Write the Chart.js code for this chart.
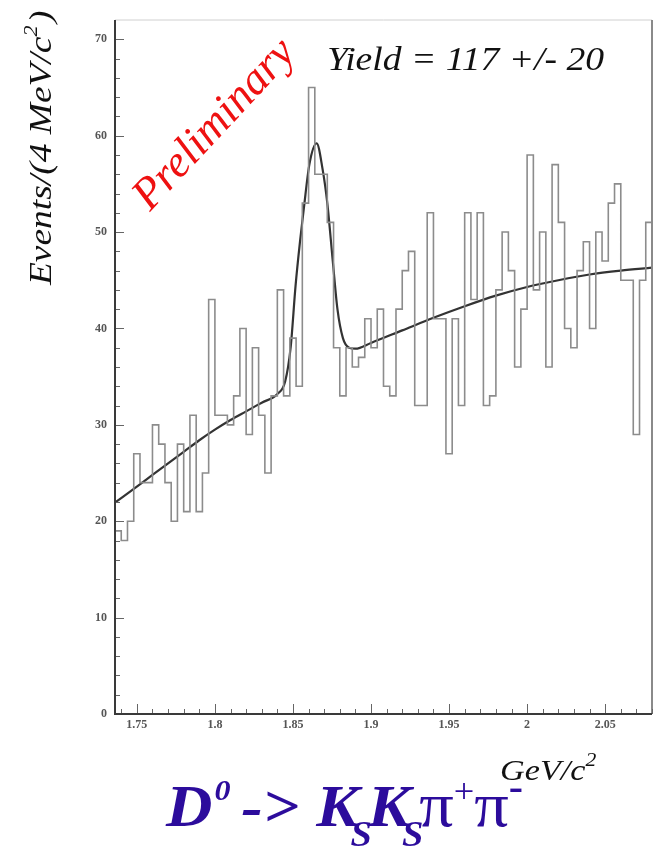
<!DOCTYPE html>
<html>
<head>
<meta charset="utf-8">
<script src="https://cdn.jsdelivr.net/npm/chart.js@4.4.1/dist/chart.umd.min.js"></script>
<style>
  html, body { margin: 0; padding: 0; background: #fff; }
  #wrap { width: 658px; height: 847px; position: relative; }
</style>
</head>
<body>
<div id="wrap"><canvas id="massplot"></canvas></div>
<script>
// KsKs pi pi invariant mass, 4 MeV bins starting at 1.736 GeV
const binStart = 1.736;
const binWidth = 0.004;
const counts = [
  19, 18, 20, 27, 24, 24, 30, 28, 24, 20,
  28, 21, 31, 21, 25, 43, 31, 31, 30, 33,
  40, 29, 38, 31, 25, 33, 44, 33, 39, 34,
  53, 65, 56, 56, 51, 38, 33, 38, 36, 37,
  41, 38, 42, 34, 33, 42, 46, 48, 32, 32,
  52, 41, 41, 27, 41, 32, 52, 43, 52, 32,
  33, 44, 50, 46, 36, 42, 58, 44, 50, 36,
  57, 51, 40, 38, 46, 49, 40, 50, 47, 53,
  55, 45, 45, 29, 45, 51
];

// fit curve (gaussian + background)
const fitMass = [1.7366, 1.75, 1.76, 1.77, 1.78, 1.79, 1.80, 1.81, 1.82, 1.83,
  1.84, 1.845, 1.8485, 1.8517, 1.8545, 1.857, 1.8605, 1.8652, 1.869, 1.872,
  1.8755, 1.8785, 1.882, 1.886, 1.89, 1.90, 1.92, 1.94, 1.96, 1.98,
  2.00, 2.02, 2.04, 2.06, 2.08];
const fitEvents = [22.0, 23.6, 24.8, 26.0, 27.2, 28.4, 29.5, 30.5, 31.4, 32.3,
  33.2, 34.5, 38.0, 44.5, 49.0, 52.5, 57.0, 59.2, 56.5, 53.0,
  47.0, 42.0, 39.0, 38.0, 37.9, 38.5, 39.8, 41.1, 42.3, 43.4,
  44.3, 45.0, 45.6, 46.0, 46.3];

const yTicks = [0, 10, 20, 30, 40, 50, 60, 70];
const xTicks = [1.75, 1.8, 1.85, 1.9, 1.95, 2, 2.05];
const xTickLabels = ['1.75', '1.8', '1.85', '1.9', '1.95', '2', '2.05'];

const serif = "'Liberation Serif', 'DejaVu Serif', serif";

// histogram outline as a stepped line through the bin edges
const histPoints = counts.map((c, k) => ({ x: binStart + k * binWidth, y: c }));
histPoints.push({ x: binStart + counts.length * binWidth, y: counts[counts.length - 1] });

const fitPoints = fitMass.map((m, i) => ({ x: m, y: fitEvents[i] }));

// frame + ROOT style ticks pointing into the pad
const padFrame = {
  id: 'padFrame',
  afterDatasetsDraw(chart) {
    const { ctx, chartArea: a, scales: { x, y } } = chart;
    ctx.save();
    ctx.strokeStyle = '#d0d0d0';
    ctx.lineWidth = 1;
    ctx.beginPath(); ctx.moveTo(a.left, a.top); ctx.lineTo(a.right, a.top); ctx.stroke();
    ctx.strokeStyle = '#8a8a8a';
    ctx.lineWidth = 2;
    ctx.beginPath(); ctx.moveTo(a.right, a.top); ctx.lineTo(a.right, a.bottom); ctx.stroke();

    ctx.strokeStyle = '#666';
    ctx.lineWidth = 1;
    for (let v = 0; v <= 70; v += 2) {
      const py = Math.round(y.getPixelForValue(v)) + 0.5;
      const len = v % 10 === 0 ? 9 : 5;
      ctx.beginPath(); ctx.moveTo(a.left, py); ctx.lineTo(a.left + len, py); ctx.stroke();
    }
    for (let i = 174; i <= 208; i++) {
      const px = Math.round(x.getPixelForValue(i / 100)) + 0.5;
      const len = i % 5 === 0 ? 10 : 5;
      ctx.beginPath(); ctx.moveTo(px, a.bottom); ctx.lineTo(px, a.bottom - len); ctx.stroke();
    }

    ctx.strokeStyle = '#3a3a3a';
    ctx.lineWidth = 2;
    ctx.beginPath(); ctx.moveTo(a.left, a.top); ctx.lineTo(a.left, a.bottom); ctx.lineTo(a.right, a.bottom); ctx.stroke();
    ctx.restore();
  }
};

// draws runs of text (for super/subscripts), sx stretches horizontally
function drawRuns(ctx, runs, x, y, sx = 1) {
  ctx.save();
  ctx.translate(x, y);
  ctx.scale(sx, 1);
  let cx = 0;
  for (const r of runs) {
    ctx.font = r.font;
    ctx.fillText(r.text, cx + (r.dx || 0), r.dy || 0);
    cx += ctx.measureText(r.text).width + (r.dx || 0) + (r.after || 0);
  }
  ctx.restore();
}

const labels = {
  id: 'labels',
  afterDraw(chart) {
    const ctx = chart.ctx;
    ctx.save();
    ctx.textBaseline = 'alphabetic';
    ctx.textAlign = 'left';

    // y axis title
    ctx.save();
    ctx.translate(51, 285);
    ctx.rotate(-Math.PI / 2);
    ctx.fillStyle = '#111';
    drawRuns(ctx, [
      { text: 'Events/(4 MeV/c', font: 'italic 32px ' + serif },
      { text: '2', font: 'italic 19px ' + serif, dy: -14 },
      { text: ')', font: 'italic 32px ' + serif, dx: 2 }
    ], 0, 0, 1.17);
    ctx.restore();

    // yield
    ctx.fillStyle = '#111';
    drawRuns(ctx, [{ text: 'Yield = 117 +/- 20', font: 'italic 33px ' + serif }], 327, 70, 1.14);

    // preliminary stamp
    ctx.save();
    ctx.translate(150, 212);
    ctx.rotate(-47 * Math.PI / 180);
    ctx.fillStyle = '#ee1111';
    ctx.font = 'italic 45px ' + serif;
    ctx.fillText('Preliminary', 0, 0);
    ctx.restore();

    // x axis unit
    ctx.fillStyle = '#111';
    drawRuns(ctx, [
      { text: 'GeV/c', font: 'italic 30px ' + serif },
      { text: '2', font: 'italic 19px ' + serif, dy: -14 }
    ], 500, 780, 1.14);

    // decay channel
    ctx.fillStyle = '#2c0c9c';
    const big = 'italic bold 60px ' + serif;
    const sup = 'italic bold 30px ' + serif;
    const sub = 'italic bold 36px ' + serif;
    const pi = '64px ' + serif;
    drawRuns(ctx, [
      { text: 'D', font: big },
      { text: '0', font: sup, dy: -26, dx: 2, after: 10 },
      { text: '->', font: big, after: 16 },
      { text: 'K', font: big },
      { text: 'S', font: sub, dy: 20, dx: -8, after: -4 },
      { text: 'K', font: big },
      { text: 'S', font: sub, dy: 20, dx: -8, after: -4 },
      { text: 'π', font: pi },
      { text: '+', font: '34px ' + serif, dy: -24 },
      { text: 'π', font: pi },
      { text: '-', font: 'bold 40px ' + serif, dy: -26 }
    ], 166, 826, 1.07);
    ctx.restore();
  }
};

const tickFont = { family: serif, size: 12, weight: 'bold' };

new Chart(document.getElementById('massplot'), {
  type: 'scatter',
  data: {
    datasets: [
      {
        data: histPoints,
        showLine: true,
        stepped: 'before',
        borderColor: '#8c8c8c',
        borderWidth: 1.6,
        pointRadius: 0
      },
      {
        data: fitPoints,
        showLine: true,
        cubicInterpolationMode: 'monotone',
        borderColor: '#333',
        borderWidth: 2.2,
        pointRadius: 0
      }
    ]
  },
  options: {
    responsive: true,
    maintainAspectRatio: false,
    devicePixelRatio: 1,
    animation: false,
    layout: { padding: { top: 20, right: 6, left: 0, bottom: 0 } },
    plugins: {
      legend: { display: false },
      tooltip: { enabled: false }
    },
    scales: {
      x: {
        type: 'linear',
        min: binStart,
        max: binStart + counts.length * binWidth,
        afterBuildTicks: (scale) => { scale.ticks = xTicks.map(v => ({ value: v })); },
        afterFit: (scale) => { scale.height = 133; },
        grid: { display: false, drawTicks: false },
        border: { display: false },
        ticks: {
          autoSkip: false,
          maxRotation: 0,
          padding: 4,
          color: '#555',
          font: tickFont,
          callback: (v) => xTickLabels[xTicks.indexOf(v)] ?? ''
        }
      },
      y: {
        min: 0,
        max: 72,
        afterBuildTicks: (scale) => { scale.ticks = yTicks.map(v => ({ value: v })); },
        afterFit: (scale) => { scale.width = 115; },
        grid: { display: false, drawTicks: false },
        border: { display: false },
        ticks: {
          padding: 8,
          color: '#555',
          font: tickFont
        }
      }
    }
  },
  plugins: [padFrame, labels]
});
</script>
</body>
</html>
